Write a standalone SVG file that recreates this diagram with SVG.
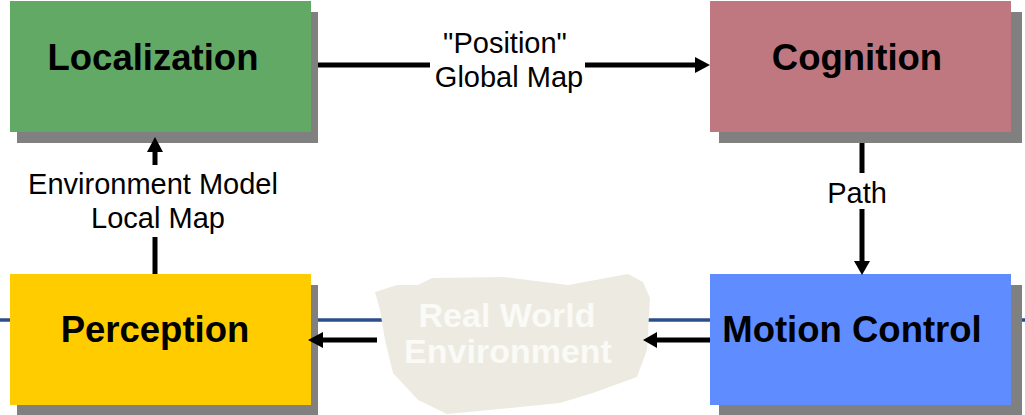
<svg xmlns="http://www.w3.org/2000/svg" width="1025" height="415" viewBox="0 0 1025 415">
<style>
.shadow{fill:#808080}
.title{font-family:"Liberation Sans",Arial,sans-serif;font-weight:bold;font-size:36.5px;fill:#000;text-anchor:middle}
.lbl{font-family:"Liberation Sans",Arial,sans-serif;font-size:29px;fill:#000;text-anchor:middle}
.env{font-family:"Liberation Sans",Arial,sans-serif;font-weight:bold;font-size:34px;fill:#fafaf6;text-anchor:middle}
.ln{stroke:#000;stroke-width:5;fill:none}
.hd{fill:#000}
</style>
<rect width="1025" height="415" fill="#fff"/>
<line x1="0" y1="320" x2="1025" y2="320" stroke="#2b4f8a" stroke-width="3.5"/>
<g id="localization">
<rect class="shadow" x="17" y="12" width="301" height="131"/>
<rect x="10" y="1" width="301" height="131" fill="#63a966"/>
<text class="title" x="153" y="70">Localization</text>
</g>
<g id="cognition">
<rect class="shadow" x="719" y="12" width="303" height="131"/>
<rect x="710" y="1" width="301" height="131" fill="#bf7880"/>
<text class="title" x="857" y="70">Cognition</text>
</g>
<g id="perception">
<rect class="shadow" x="17" y="285" width="301" height="130"/>
<rect x="10" y="274" width="301" height="131" fill="#ffcc00"/>
<text class="title" x="155" y="342">Perception</text>
</g>
<g id="motion-control">
<rect class="shadow" x="719" y="285" width="303" height="130"/>
<rect x="710" y="274" width="301" height="131" fill="#5f8dff"/>
<text class="title" x="852" y="342">Motion Control</text>
</g>
<g id="real-world-environment">
<path d="M375,292 L397,285 L418,285 L432,278 L503,277 L568,285 L628,274 L643,282 L650,298 L647,350 L637,377 L593,393 L560,403 L510,408 L447,414 L418,400 L393,373 L385,340 L380,310 Z" fill="#edebe1"/>
<text class="env" x="507" y="327">Real World</text>
<text class="env" x="508" y="363">Environment</text>
</g>
<g id="connectors">
<line class="ln" x1="318" y1="65" x2="430" y2="65"/>
<line class="ln" x1="585" y1="65" x2="697" y2="65"/>
<polygon class="hd" points="710,65 695,57 695,73"/>
<line class="ln" x1="862" y1="143" x2="862" y2="173"/>
<line class="ln" x1="862" y1="209" x2="862" y2="263"/>
<polygon class="hd" points="862,275 854,261 870,261"/>
<line class="ln" x1="155" y1="274" x2="155" y2="237"/>
<line class="ln" x1="155" y1="165" x2="155" y2="150"/>
<polygon class="hd" points="155,137 147,152 163,152"/>
<line class="ln" x1="710" y1="340" x2="655" y2="340"/>
<polygon class="hd" points="643,340 657,332 657,348"/>
<line class="ln" x1="377" y1="340" x2="320" y2="340"/>
<polygon class="hd" points="308,340 323,332 323,348"/>
</g>
<g id="labels">
<text class="lbl" x="505" y="53">"Position"</text>
<text class="lbl" x="509" y="87">Global Map</text>
<text class="lbl" x="857" y="203">Path</text>
<text class="lbl" x="153" y="194">Environment Model</text>
<text class="lbl" x="158" y="228">Local Map</text>
</g>
</svg>
